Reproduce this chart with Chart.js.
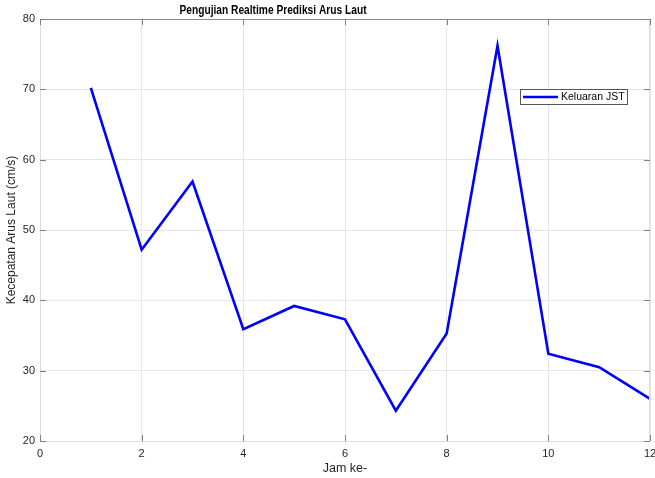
<!DOCTYPE html>
<html><head><meta charset="utf-8">
<script src="https://cdn.jsdelivr.net/npm/chart.js@4.4.0/dist/chart.umd.min.js"></script>
<style>html,body{margin:0;padding:0;background:#fff}#wrap{width:655px;height:478px}</style>
</head><body><div id="wrap"><canvas id="c" width="655" height="478"></canvas></div>
<script>
const hours = [1,2,3,4,5,6,7,8,9,10,11,12];
const seriesJST = [70.2,47.2,56.9,35.9,39.2,37.3,24.3,35.3,76.2,32.4,30.5,26.0];
const xTicks = [0,2,4,6,8,10,12];
const yTicks = [20,30,40,50,60,70,80];
const titleText = 'Pengujian Realtime Prediksi Arus Laut';
const seriesLabel = 'Keluaran JST';
const xLabel = 'Jam ke-';
const yLabel = 'Kecepatan Arus Laut (cm/s)';

const FONT = 'Liberation Sans, Arial, sans-serif';
const TXT = '#262626';

const deco = {
  id: 'deco',
  afterDraw(chart) {
    const {ctx, chartArea: a, scales: {x, y}} = chart;
    ctx.save();
    // borders
    ctx.lineWidth = 1;
    ctx.strokeStyle = '#dcdcdc';
    ctx.beginPath();
    ctx.moveTo(a.left + 0.5, a.top); ctx.lineTo(a.left + 0.5, a.bottom + 0.5);
    ctx.lineTo(a.right - 0.5, a.bottom + 0.5); ctx.lineTo(a.right - 0.5, a.top);
    ctx.stroke();
    ctx.strokeStyle = '#8a8a8a';
    ctx.beginPath(); ctx.moveTo(a.left, a.top + 0.5); ctx.lineTo(a.right, a.top + 0.5); ctx.stroke();
    // inner tick marks
    ctx.strokeStyle = '#808080';
    ctx.beginPath();
    xTicks.forEach(v => {
      const px = Math.round(x.getPixelForValue(v)) + 0.5;
      ctx.moveTo(px, a.bottom); ctx.lineTo(px, a.bottom - 6);
      ctx.moveTo(px, a.top); ctx.lineTo(px, a.top + 6);
    });
    yTicks.forEach(v => {
      const py = Math.round(y.getPixelForValue(v)) + 0.5;
      ctx.moveTo(a.left, py); ctx.lineTo(a.left + 6, py);
      ctx.moveTo(a.right, py); ctx.lineTo(a.right - 6, py);
    });
    ctx.stroke();
    // title (condensed)
    ctx.fillStyle = '#000';
    ctx.font = 'bold 12px ' + FONT;
    ctx.textAlign = 'center'; ctx.textBaseline = 'middle';
    ctx.save();
    ctx.translate(273, 11);
    ctx.scale(0.85, 1);
    ctx.fillText(titleText, 0, 0);
    ctx.restore();
    // legend
    const lx = 520, ly = 89, lw = 107, lh = 15;
    ctx.fillStyle = '#fff';
    ctx.fillRect(lx, ly, lw, lh);
    ctx.strokeStyle = '#555';
    ctx.lineWidth = 1;
    ctx.strokeRect(lx + 0.5, ly + 0.5, lw, lh);
    const ds = chart.data.datasets[0];
    ctx.strokeStyle = ds.borderColor; ctx.lineWidth = 2.5;
    ctx.beginPath(); ctx.moveTo(lx + 3, ly + 8); ctx.lineTo(lx + 38, ly + 8); ctx.stroke();
    ctx.fillStyle = '#000';
    ctx.font = '10.5px ' + FONT;
    ctx.textAlign = 'left';
    ctx.fillText(ds.label, lx + 41, ly + 8.5);
    ctx.restore();
  }
};

function fixPad(s) { s.paddingLeft = 0; s.paddingRight = 0; s.paddingTop = 0; s.paddingBottom = 0; }

new Chart(document.getElementById('c'), {
  type: 'line',
  data: {
    datasets: [{
      label: seriesLabel,
      data: hours.map((h, i) => ({x: h, y: seriesJST[i]})),
      borderColor: '#0000ff',
      borderWidth: 2.6,
      pointRadius: 0,
      tension: 0,
      fill: false
    }]
  },
  options: {
    responsive: false,
    animation: false,
    layout: {padding: {top: 19, right: 5, bottom: 0, left: 0}},
    plugins: {legend: {display: false}, title: {display: false}, tooltip: {enabled: false}},
    scales: {
      x: {
        type: 'linear', min: 0, max: 12,
        afterBuildTicks: s => { s.ticks = xTicks.map(v => ({value: v})); },
        afterFit: s => { s.height = 37; fixPad(s); },
        grid: {color: '#e6e6e6', drawTicks: false},
        border: {display: false},
        ticks: {color: TXT, font: {family: FONT, size: 11}, padding: 6, maxRotation: 0},
        title: {display: true, text: xLabel, color: TXT, font: {family: FONT, size: 12.5}, padding: {top: 0, bottom: 2}}
      },
      y: {
        min: 20, max: 80,
        afterBuildTicks: s => { s.ticks = yTicks.map(v => ({value: v})); },
        afterFit: s => { s.width = 40; fixPad(s); },
        grid: {color: '#e6e6e6', drawTicks: false},
        border: {display: false},
        ticks: {color: TXT, font: {family: FONT, size: 11}, padding: 5},
        title: {display: true, text: yLabel, color: TXT, font: {family: FONT, size: 12}, padding: {top: 4, bottom: 0}}
      }
    }
  },
  plugins: [deco]
});
</script></body></html>
